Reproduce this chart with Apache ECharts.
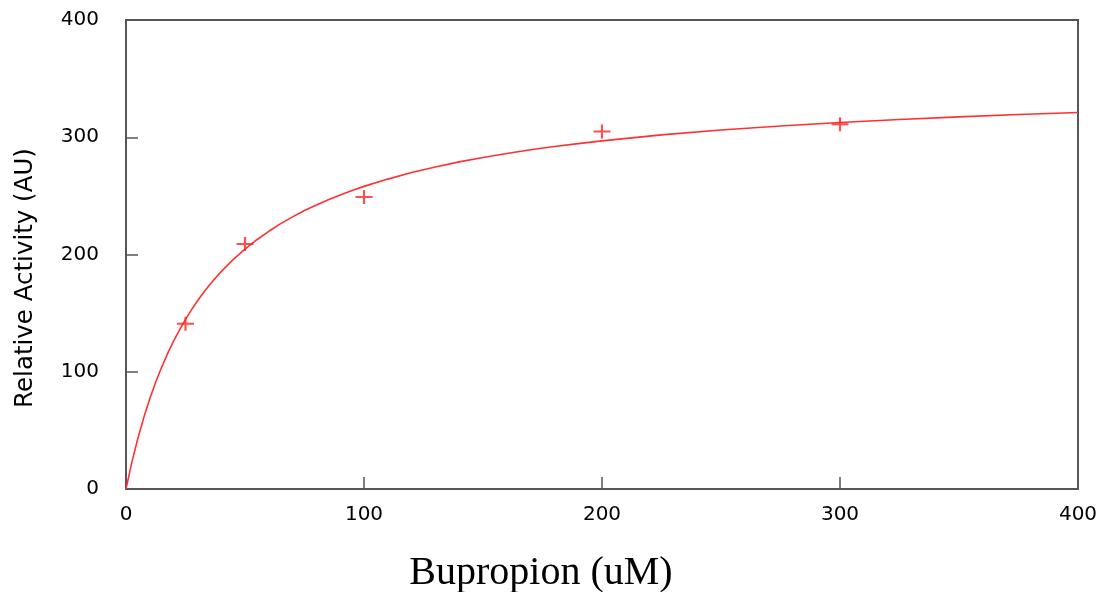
<!DOCTYPE html>
<html>
<head>
<meta charset="utf-8">
<script src="https://cdn.jsdelivr.net/npm/echarts@6/dist/echarts.min.js"></script>
<style>
html,body{margin:0;padding:0;background:#fff;}
#chart{width:1101px;height:592px;}
</style>
</head>
<body>
<div id="chart"></div>
<script>
// Measured points (Bupropion concentration, activity)
var pointX = [25, 50, 100, 200, 300];
var pointY = [141, 209, 249, 305, 311];
// Fitted curve, values
var curveX = [0, 2.5, 5, 7.5, 10, 12.5, 15, 17.5, 20, 22.5, 25, 27.5, 30, 32.5, 35, 37.5, 40, 45, 50, 55, 60, 65, 70, 75, 80, 85, 90, 95, 100, 110, 120, 130, 140, 150, 160, 170, 180, 190, 200, 225, 250, 275, 300, 325, 350, 375, 400];
var curveY = [0, 23.1, 43.3, 61.1, 77.0, 91.2, 104.0, 115.6, 126.2, 135.8, 144.7, 152.8, 160.3, 167.3, 173.8, 179.8, 185.4, 195.6, 204.6, 212.6, 219.8, 226.3, 232.1, 237.5, 242.3, 246.7, 250.8, 254.6, 258.1, 264.3, 269.9, 274.6, 279.0, 282.8, 286.2, 289.3, 292.1, 294.6, 296.9, 302.0, 306.2, 309.6, 312.6, 315.2, 317.4, 319.4, 321.1];
var xTicks = [0, 100, 200, 300, 400];
var yTicks = [0, 100, 200, 300, 400];
var xTitle = 'Bupropion (uM)';
var yTitle = 'Relative Activity (AU)';

var points = pointX.map(function (x, i) { return [x, pointY[i]]; });
var curve = curveX.map(function (x, i) { return [x, curveY[i]]; });

var chart = echarts.init(document.getElementById('chart'));
var axisCommon = {
  type: 'value',
  min: 0,
  max: 400,
  interval: 100,
  splitLine: { show: false },
  axisLine: { show: false },
  axisTick: { show: true, inside: true, length: 12, lineStyle: { color: '#555', width: 1.5 } },
  axisLabel: { fontFamily: 'DejaVu Sans', fontSize: 20, color: '#000' }
};
chart.setOption({
  animation: false,
  backgroundColor: '#fff',
  grid: { left: 126, top: 20, right: 23, bottom: 103, show: true, borderColor: '#555', borderWidth: 2, backgroundColor: 'transparent' },
  xAxis: echarts.util.merge({ axisLabel: { margin: 16 } }, axisCommon, true),
  yAxis: echarts.util.merge({ axisLabel: { margin: 27 } }, axisCommon, true),
  graphic: [
    { type: 'text', x: 541, y: 573, style: { text: xTitle, font: '40px "Liberation Serif"', fill: '#000', textAlign: 'center', textVerticalAlign: 'middle' } },
    { type: 'text', x: 25.5, y: 278, rotation: Math.PI / 2, style: { text: yTitle, font: '24.5px "DejaVu Sans"', fill: '#000', textAlign: 'center', textVerticalAlign: 'middle' } }
  ],
  series: [
    {
      type: 'line',
      data: curve,
      smooth: false,
      showSymbol: false,
      lineStyle: { color: '#ff3030', width: 1.6 },
      z: 2
    },
    {
      type: 'scatter',
      data: points,
      symbol: 'path://M7,0H9V6H16V8H9V14H7V8H0V6H7Z',
      symbolSize: [17, 14],
      itemStyle: { color: '#ff2020' },
      z: 3
    }
  ]
});
</script>
</body>
</html>
